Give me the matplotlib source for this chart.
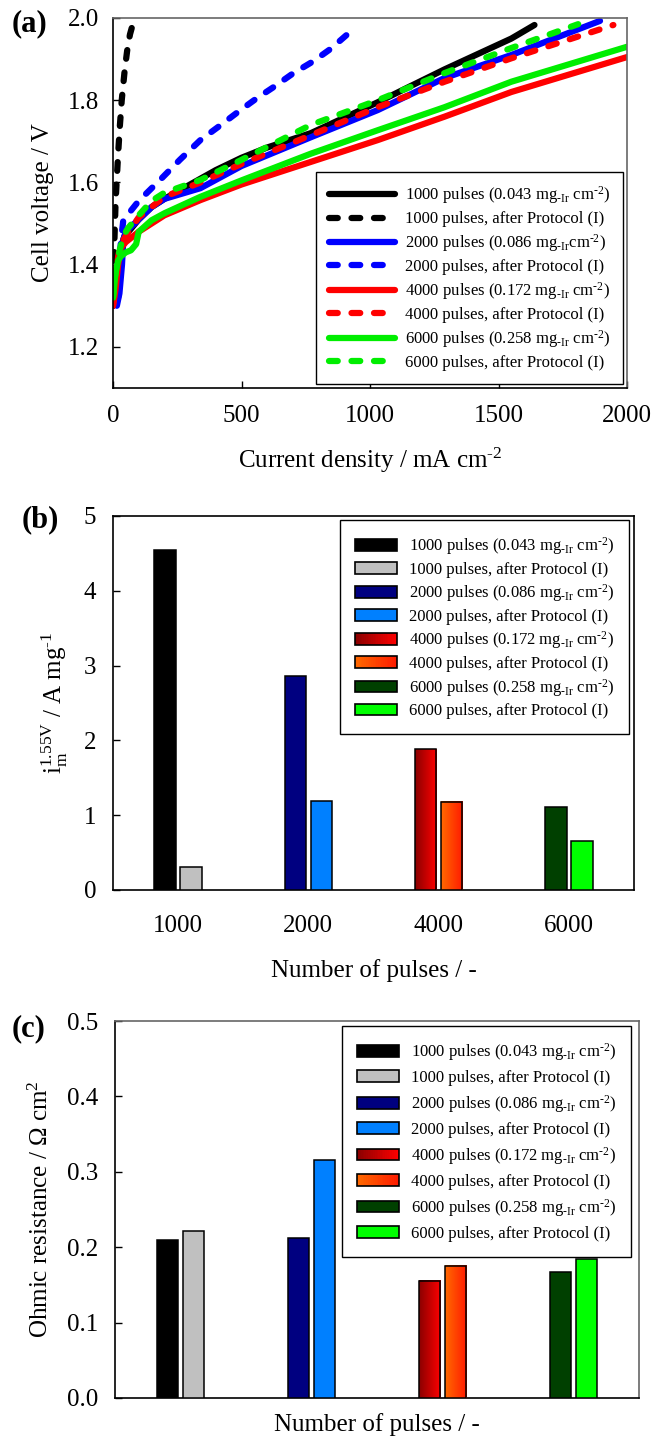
import matplotlib.pyplot as plt
import matplotlib.patches as mpatches
from matplotlib.colors import LinearSegmentedColormap
from matplotlib.legend_handler import HandlerBase
import numpy as np


plt.rcParams['font.family'] = ['Liberation Serif', 'DejaVu Serif']
plt.rcParams['mathtext.fontset'] = 'custom'
plt.rcParams['mathtext.rm'] = 'Liberation Serif'
plt.rcParams['mathtext.it'] = 'Liberation Serif:italic'
plt.rcParams['mathtext.bf'] = 'Liberation Serif:bold'

# (a) polarisation curves, current density in mA cm-2, cell voltage in V
j_1000 = [0, 10, 20, 30, 45, 60, 100, 150, 200, 300, 400, 500, 600, 770, 1030, 1290, 1550, 1640]
v_1000 = [1.30, 1.36, 1.40, 1.44, 1.47, 1.48, 1.51, 1.54, 1.56, 1.595, 1.63, 1.66, 1.685, 1.72, 1.795, 1.875, 1.95, 1.983]
j_1000_p = [0, 2, 5, 10, 14, 20, 27, 34, 45, 55, 66, 77]
v_1000_p = [1.30, 1.38, 1.45, 1.55, 1.60, 1.67, 1.74, 1.80, 1.87, 1.92, 1.96, 1.985]
j_2000 = [15, 25, 35, 40, 50, 100, 150, 200, 340, 500, 770, 1030, 1290, 1550, 1895]
v_2000 = [1.30, 1.33, 1.40, 1.46, 1.48, 1.51, 1.54, 1.56, 1.586, 1.64, 1.71, 1.776, 1.854, 1.91, 1.993]
j_2000_p = [20, 30, 40, 100, 183, 260, 340, 420, 496, 560, 625, 700, 780, 847, 939]
v_2000_p = [1.32, 1.45, 1.508, 1.555, 1.606, 1.655, 1.703, 1.74, 1.776, 1.805, 1.832, 1.865, 1.895, 1.925, 1.975]
j_4000 = [0, 10, 20, 30, 50, 80, 100, 150, 200, 340, 500, 770, 1030, 1290, 1550, 2000]
v_4000 = [1.30, 1.34, 1.40, 1.44, 1.455, 1.47, 1.48, 1.50, 1.52, 1.557, 1.595, 1.65, 1.703, 1.76, 1.82, 1.905]
j_4000_p = [0, 10, 20, 30, 50, 100, 150, 200, 340, 500, 770, 1030, 1290, 1550, 1947]
v_4000_p = [1.30, 1.35, 1.42, 1.45, 1.47, 1.515, 1.54, 1.565, 1.60, 1.645, 1.715, 1.783, 1.845, 1.902, 1.983]
j_6000 = [0, 10, 20, 30, 50, 70, 90, 100, 150, 200, 340, 500, 770, 1030, 1290, 1550, 2000]
v_6000 = [1.32, 1.38, 1.41, 1.42, 1.43, 1.435, 1.45, 1.48, 1.508, 1.525, 1.565, 1.605, 1.67, 1.727, 1.783, 1.845, 1.93]
j_6000_p = [0, 10, 20, 40, 60, 100, 150, 200, 340, 500, 770, 1030, 1290, 1550, 1810]
v_6000_p = [1.32, 1.38, 1.42, 1.47, 1.49, 1.52, 1.555, 1.575, 1.606, 1.655, 1.74, 1.80, 1.866, 1.927, 1.985]

# (b) and (c) bar data
pulses = ['1000', '2000', '4000', '6000']
mass_act = [4.55, 2.865, 1.88, 1.11]
mass_act_p = [0.31, 1.19, 1.18, 0.655]
ohmic = [0.2095, 0.212, 0.1556, 0.1675]
ohmic_p = [0.222, 0.3157, 0.1755, 0.184]

MG = 'mg$_{\\text{-Ir}}$'
CM2 = 'cm$^{\\text{-2}}$'
labels = [
    '1000 pulses (0.043 ' + MG + ' ' + CM2 + ')',
    '1000 pulses, after Protocol (I)',
    '2000 pulses (0.086 ' + MG + CM2 + ')',
    '2000 pulses, after Protocol (I)',
    '4000 pulses (0.172 ' + MG + ' ' + CM2 + ')',
    '4000 pulses, after Protocol (I)',
    '6000 pulses (0.258 ' + MG + ' ' + CM2 + ')',
    '6000 pulses, after Protocol (I)',
]
bar_labels = [s.replace(MG + CM2, MG + ' ' + CM2) for s in labels]

W, H = 656, 1437
TICK_FS = 18
LAB_FS = 18
LEG_FS = 12
TAG_FS = 22


class GradHandler(HandlerBase):
    def __init__(self, cmap):
        super().__init__()
        self.cmap = cmap

    def create_artists(self, legend, orig_handle, xdescent, ydescent,
                       width, height, fontsize, trans):
        arts = []
        n = 24
        for i in range(n):
            r = mpatches.Rectangle((-xdescent + i * width / n, -ydescent),
                                   width / n * 1.05, height,
                                   facecolor=self.cmap((i + 0.5) / n),
                                   edgecolor='none', lw=0, transform=trans)
            arts.append(r)
        arts.append(mpatches.Rectangle((-xdescent, -ydescent), width, height,
                                       facecolor='none', edgecolor='black',
                                       lw=1.2, transform=trans))
        return arts


def axes_box(left, top, right, bottom):
    return [left / W, 1 - bottom / H, (right - left) / W, (bottom - top) / H]


def style_axes(ax, grey_frame=False):
    ax.tick_params(direction='in', labelsize=TICK_FS, length=5, width=1)
    for s in ax.spines.values():
        s.set_linewidth(1.2)
    if grey_frame:
        ax.spines['top'].set_color('#666666')
        ax.spines['right'].set_color('#666666')


def plot_curves(fig):
    ax = fig.add_axes(axes_box(113, 18, 627, 388))
    lw = 4.5
    dash = (0, (1.4, 2.2))
    series = [
        (j_1000, v_1000, 'black', '-'),
        (j_1000_p, v_1000_p, 'black', dash),
        (j_2000, v_2000, '#0000ff', '-'),
        (j_2000_p, v_2000_p, '#0000ff', dash),
        (j_4000, v_4000, '#ff0000', '-'),
        (j_4000_p, v_4000_p, '#ff0000', dash),
        (j_6000, v_6000, '#00ee00', '-'),
        (j_6000_p, v_6000_p, '#00ee00', dash),
    ]
    handles = []
    for jj, vv, c, ls in series:
        h, = ax.plot(jj, vv, color=c, ls=ls, lw=lw, solid_capstyle='round',
                     dash_capstyle='round')
        handles.append(h)
    ax.set_xlim(0, 2000)
    ax.set_ylim(1.1, 2.0)
    ax.set_xticks([0, 500, 1000, 1500, 2000])
    ax.set_yticks([1.2, 1.4, 1.6, 1.8, 2.0])
    ax.set_yticklabels(['1.2', '1.4', '1.6', '1.8', '2.0'])
    style_axes(ax, grey_frame=True)
    ax.tick_params(axis='x', pad=12)
    ax.tick_params(axis='y', pad=10)
    ax.set_xlabel('Current density / mA ' + CM2, fontsize=LAB_FS, labelpad=14)
    ax.set_ylabel('Cell voltage / V', fontsize=LAB_FS, labelpad=10)
    leg = ax.legend(handles, labels, loc='upper right',
                    bbox_to_anchor=(623 / W, 1 - 172 / H),
                    bbox_transform=fig.transFigure, borderaxespad=0,
                    fontsize=LEG_FS, handlelength=4.0, handletextpad=0.6,
                    labelspacing=0.3, fancybox=False, edgecolor='black',
                    framealpha=1, borderpad=0.75)
    leg.get_frame().set_linewidth(1)
    fig.text(12 / W, 1 - 24 / H, '(a)', fontsize=TAG_FS, fontweight='bold', va='center')


def gradient_bar(ax, patch, cmap):
    x0 = patch.get_x()
    x1 = x0 + patch.get_width()
    h = patch.get_height()
    ax.imshow(np.linspace(0, 1, 256).reshape(1, -1), cmap=cmap,
              extent=(x0, x1, 0, h), aspect='auto', zorder=patch.get_zorder() - 0.1,
              interpolation='bilinear')
    patch.set_facecolor('none')


def plot_bars(fig, box, before, after, ymax, yticks, yfmt, ylabel, tag, tag_xy,
              legend_corner, show_ticklabels, spacing):
    ax = fig.add_axes(axes_box(*box))
    x = np.arange(len(pulses))
    off = 0.1
    wd = 0.165
    c_before = ['black', '#000080', '#990000', '#004000']
    c_after = ['#c0c0c0', '#0080ff', '#ff6a00', '#00ff00']
    b1 = ax.bar(x - off, before, wd, color=c_before, edgecolor='black', lw=1.1, zorder=3)
    b2 = ax.bar(x + off, after, wd, color=c_after, edgecolor='black', lw=1.1, zorder=3)

    cm_red = LinearSegmentedColormap.from_list('dr', ['#8a0000', '#ff0000'])
    cm_org = LinearSegmentedColormap.from_list('or', ['#ff6a00', '#ff1a00'])
    gradient_bar(ax, b1.patches[2], cm_red)
    gradient_bar(ax, b2.patches[2], cm_org)

    ax.set_xlim(-0.5, 3.5)
    ax.set_ylim(0, ymax)
    ax.set_xticks(x)
    if show_ticklabels:
        ax.set_xticklabels(pulses)
        ax.set_xlabel('Number of pulses / -', fontsize=LAB_FS, labelpad=16)
    else:
        ax.set_xticklabels([])
        # label sits at the bottom edge of the figure, as in the source figure
        fig.text((box[0] + box[2]) / 2 / W, 1 - 1431 / H, 'Number of pulses / -',
                 fontsize=LAB_FS, ha='center', va='baseline')
    ax.set_yticks(yticks)
    ax.set_yticklabels([yfmt.format(v) for v in yticks])
    style_axes(ax, grey_frame=not show_ticklabels)
    ax.tick_params(axis='x', length=0, pad=18)
    ax.tick_params(axis='y', pad=12)
    ax.set_ylabel(ylabel, fontsize=LAB_FS, labelpad=10)

    handles = []
    hmap = {}
    for i in range(len(pulses)):
        for bars in (b1, b2):
            p = bars.patches[i]
            h = mpatches.Rectangle((0, 0), 1, 1, facecolor=p.get_facecolor(),
                                   edgecolor='black', lw=1.2)
            handles.append(h)
    hmap[handles[4]] = GradHandler(cm_red)
    hmap[handles[5]] = GradHandler(cm_org)
    leg = ax.legend(handles, bar_labels, handler_map=hmap, loc='upper right',
                    bbox_to_anchor=legend_corner, bbox_transform=fig.transFigure,
                    borderaxespad=0, fontsize=LEG_FS, handlelength=2.5,
                    handleheight=0.7, handletextpad=0.7, labelspacing=spacing,
                    fancybox=False, edgecolor='black', framealpha=1, borderpad=0.9)
    leg.get_frame().set_linewidth(1)
    leg.set_zorder(5)
    fig.text(tag_xy[0] / W, 1 - tag_xy[1] / H, tag, fontsize=TAG_FS,
             fontweight='bold', va='center')


def main():
    fig = plt.figure(figsize=(W / 100, H / 100), dpi=100)
    plot_curves(fig)
    plot_bars(fig, (113, 516, 634, 890), mass_act, mass_act_p, 5, [0, 1, 2, 3, 4, 5],
              '{:d}', 'i$_{\\rm m}^{\\rm 1.55V}$ / A mg$^{\\text{-1}}$', '(b)', (22, 520),
              (629 / W, 1 - 520 / H), True, 0.28)
    plot_bars(fig, (115, 1021, 639, 1398), ohmic, ohmic_p, 0.5,
              [0.0, 0.1, 0.2, 0.3, 0.4, 0.5], '{:.1f}',
              'Ohmic resistance / $\\Omega$ cm$^{2}$', '(c)', (12, 1029),
              (631 / W, 1 - 1026 / H), False, 0.42)
    fig.savefig('out.png', dpi=100)


if __name__ == '__main__':
    main()
